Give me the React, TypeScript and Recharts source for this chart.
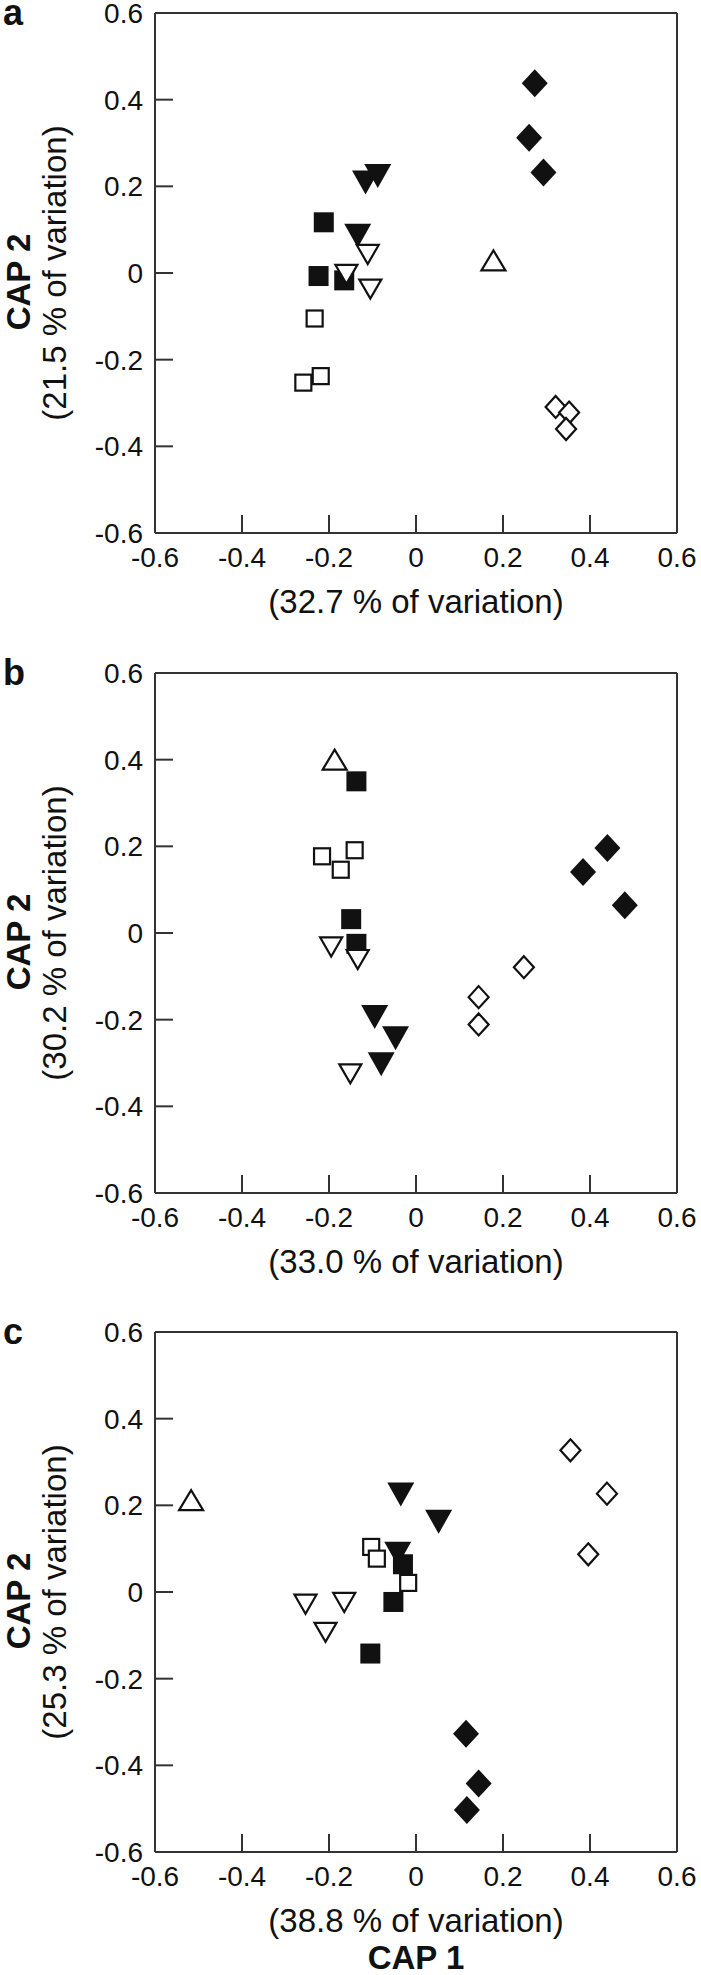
import { ScatterChart, Scatter, XAxis, YAxis, ReferenceLine, Label } from "recharts";

const TICKS = [-0.6, -0.4, -0.2, 0, 0.2, 0.4, 0.6];

// panel a
const aSqFilled = [[-0.212, 0.117], [-0.224, -0.007], [-0.165, -0.017]];
const aSqOpen = [[-0.233, -0.105], [-0.219, -0.238], [-0.259, -0.253]];
const aTriDownFilled = [[-0.116, 0.209], [-0.088, 0.224], [-0.134, 0.086]];
const aTriDownOpen = [[-0.111, 0.044], [-0.16, -0.002], [-0.105, -0.036]];
const aTriUpOpen = [[0.178, 0.029]];
const aDiaFilled = [[0.273, 0.438], [0.26, 0.312], [0.293, 0.232]];
const aDiaOpen = [[0.321, -0.309], [0.352, -0.322], [0.345, -0.36]];

// panel b
const bSqFilled = [[-0.137, 0.35], [-0.149, 0.032], [-0.137, -0.025]];
const bSqOpen = [[-0.216, 0.177], [-0.141, 0.191], [-0.173, 0.146]];
const bTriDownFilled = [[-0.095, -0.194], [-0.047, -0.243], [-0.08, -0.303]];
const bTriDownOpen = [[-0.195, -0.031], [-0.134, -0.06], [-0.151, -0.324]];
const bTriUpOpen = [[-0.187, 0.4]];
const bDiaFilled = [[0.384, 0.141], [0.44, 0.196], [0.48, 0.064]];
const bDiaOpen = [[0.248, -0.079], [0.144, -0.148], [0.144, -0.211]];

// panel c
const cSqFilled = [[-0.03, 0.064], [-0.052, -0.023], [-0.105, -0.142]];
const cSqOpen = [[-0.103, 0.104], [-0.09, 0.077], [-0.018, 0.021]];
const cTriDownFilled = [[-0.035, 0.225], [0.052, 0.162], [-0.042, 0.088]];
const cTriDownOpen = [[-0.254, -0.027], [-0.165, -0.023], [-0.208, -0.092]];
const cTriUpOpen = [[-0.517, 0.212]];
const cDiaFilled = [[0.115, -0.327], [0.144, -0.442], [0.117, -0.503]];
const cDiaOpen = [[0.355, 0.327], [0.439, 0.227], [0.396, 0.087]];

const INK = "#111";
const AXIS = "#333";
const FONT = "'Liberation Sans', Arial, Helvetica, sans-serif";

type Kind = "sqFilled" | "sqOpen" | "triDownFilled" | "triDownOpen" | "triUpOpen" | "diaFilled" | "diaOpen";

const toPts = (arr: number[][]) => arr.map(([x, y]) => ({ x, y }));

function marker(kind: Kind) {
  // eslint-disable-next-line @typescript-eslint/no-explicit-any
  return (p: any) => {
    const { cx, cy } = p;
    if (cx == null || cy == null) return <g />;
    const open = { fill: "#fff", stroke: INK, strokeWidth: 2.2 };
    switch (kind) {
      case "sqFilled":
        return <rect x={cx - 10} y={cy - 10} width={20} height={20} fill={INK} />;
      case "sqOpen":
        return <rect x={cx - 8} y={cy - 8} width={16} height={16} {...open} />;
      case "triDownFilled":
        return <polygon points={`${cx - 13.5},${cy - 12} ${cx + 13.5},${cy - 12} ${cx},${cy + 12}`} fill={INK} />;
      case "triDownOpen":
        return <polygon points={`${cx - 11},${cy - 9} ${cx + 11},${cy - 9} ${cx},${cy + 10}`} {...open} />;
      case "triUpOpen":
        return <polygon points={`${cx - 12},${cy + 10} ${cx + 12},${cy + 10} ${cx},${cy - 10}`} {...open} />;
      case "diaFilled":
        return <polygon points={`${cx},${cy - 14} ${cx + 13},${cy} ${cx},${cy + 14} ${cx - 13},${cy}`} fill={INK} />;
      default:
        return <polygon points={`${cx},${cy - 11} ${cx + 10},${cy} ${cx},${cy + 11} ${cx - 10},${cy}`} {...open} />;
    }
  };
}

interface PanelProps {
  height: number;
  top: number;
  letter: string;
  xVar: string;
  yVar: string;
  cap1?: boolean;
  series: [Kind, number[][]][];
}

function Panel({ height, top, letter, xVar, yVar, cap1, series }: PanelProps) {
  const plotH = 520;
  // eslint-disable-next-line @typescript-eslint/no-explicit-any
  const yLabel = (props: any) => {
    const vb = props.viewBox;
    const mid = vb.y + vb.height / 2;
    return (
      <g style={{ fontFamily: FONT }} fill={INK}>
        <text x={3} y={vb.y + 12} fontSize={36} fontWeight="bold">{letter}</text>
        <text transform={`translate(30, ${mid + 9}) rotate(-90)`} textAnchor="middle" fontSize={33} fontWeight="bold">CAP 2</text>
        <text transform={`translate(66, ${mid}) rotate(-90)`} textAnchor="middle" fontSize={33}>{yVar}</text>
      </g>
    );
  };
  // eslint-disable-next-line @typescript-eslint/no-explicit-any
  const xLabel = (props: any) => {
    const vb = props.viewBox;
    const cx = vb.x + vb.width / 2;
    return (
      <g style={{ fontFamily: FONT }} fill={INK}>
        <text x={cx} y={vb.y + 80} textAnchor="middle" fontSize={33}>{xVar}</text>
        {cap1 && <text x={cx} y={vb.y + 117} textAnchor="middle" fontSize={33} fontWeight="bold">CAP 1</text>}
      </g>
    );
  };

  return (
    <ScatterChart width={701} height={height} margin={{ top, right: 24, left: 0, bottom: 0 }}>
      <XAxis
        type="number"
        dataKey="x"
        domain={[-0.6, 0.6]}
        ticks={TICKS}
        interval={0}
        allowDataOverflow
        height={height - top - plotH}
        tickSize={-18}
        tickMargin={32}
        axisLine={{ stroke: AXIS, strokeWidth: 2 }}
        tickLine={{ stroke: AXIS, strokeWidth: 2 }}
        tick={{ fill: INK, fontSize: 28, fontFamily: FONT }}
      >
        <Label content={xLabel} />
      </XAxis>
      <YAxis
        type="number"
        dataKey="y"
        domain={[-0.6, 0.6]}
        ticks={TICKS}
        interval={0}
        allowDataOverflow
        width={155}
        tickSize={-18}
        tickMargin={30}
        axisLine={{ stroke: AXIS, strokeWidth: 2 }}
        tickLine={{ stroke: AXIS, strokeWidth: 2 }}
        tick={{ fill: INK, fontSize: 28, fontFamily: FONT }}
      >
        <Label content={yLabel} />
      </YAxis>
      <ReferenceLine y={0.6} stroke={AXIS} strokeWidth={2} />
      <ReferenceLine x={0.6} stroke={AXIS} strokeWidth={2} />
      {series.map(([kind, pts]) => (
        <Scatter key={kind} data={toPts(pts)} shape={marker(kind)} isAnimationActive={false} />
      ))}
    </ScatterChart>
  );
}

export default function App() {
  return (
    <div style={{ width: 701, height: 1975, background: "#fff", fontFamily: FONT }}>
      <style>{"body{margin:0;background:#fff} svg.recharts-surface{overflow:visible}"}</style>
      <Panel
        height={660}
        top={13}
        letter="a"
        xVar="(32.7 % of variation)"
        yVar="(21.5 % of variation)"
        series={[
          ["sqFilled", aSqFilled],
          ["sqOpen", aSqOpen],
          ["triDownFilled", aTriDownFilled],
          ["triDownOpen", aTriDownOpen],
          ["triUpOpen", aTriUpOpen],
          ["diaFilled", aDiaFilled],
          ["diaOpen", aDiaOpen],
        ]}
      />
      <Panel
        height={660}
        top={13}
        letter="b"
        xVar="(33.0 % of variation)"
        yVar="(30.2 % of variation)"
        series={[
          ["sqFilled", bSqFilled],
          ["sqOpen", bSqOpen],
          ["triDownFilled", bTriDownFilled],
          ["triDownOpen", bTriDownOpen],
          ["triUpOpen", bTriUpOpen],
          ["diaFilled", bDiaFilled],
          ["diaOpen", bDiaOpen],
        ]}
      />
      <Panel
        height={655}
        top={12}
        letter="c"
        xVar="(38.8 % of variation)"
        yVar="(25.3 % of variation)"
        cap1
        series={[
          ["sqFilled", cSqFilled],
          ["sqOpen", cSqOpen],
          ["triDownFilled", cTriDownFilled],
          ["triDownOpen", cTriDownOpen],
          ["triUpOpen", cTriUpOpen],
          ["diaFilled", cDiaFilled],
          ["diaOpen", cDiaOpen],
        ]}
      />
    </div>
  );
}
